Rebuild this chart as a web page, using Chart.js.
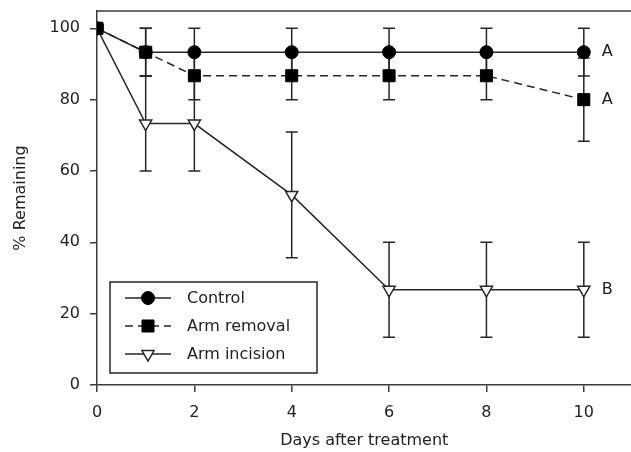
<!DOCTYPE html>
<html>
<head>
<meta charset="utf-8">
<script src="https://cdn.jsdelivr.net/npm/chart.js@4"></script>
<style>
  html, body { margin: 0; padding: 0; background: #fff; overflow: hidden; }
  #wrap { width: 641px; height: 452px; }
</style>
</head>
<body>
<div id="wrap"><canvas id="myChart1" width="641" height="452"></canvas></div>
<script>
const days = [0, 1, 2, 4, 6, 8, 10];
const control = [100, 93.3, 93.3, 93.3, 93.3, 93.3, 93.3];
const controlErr = [0, 6.7, 6.7, 6.7, 6.7, 6.7, 6.7];
const armRemoval = [100, 93.3, 86.7, 86.7, 86.7, 86.7, 80];
const armRemovalErr = [0, 6.7, 6.7, 6.7, 6.7, 6.7, 11.7];
const armIncision = [100, 73.3, 73.3, 53.3, 26.7, 26.7, 26.7];
const armIncisionErr = [0, 13.3, 13.3, 17.6, 13.3, 13.3, 13.3];
const xTicks = [0, 2, 4, 6, 8, 10];
const yTicks = [0, 20, 40, 60, 80, 100];
const groupLabels = ['A', 'A', 'B'];

const ink = '#262626';
const axisInk = '#3c3c3c';
const font = { family: '"DejaVu Sans", sans-serif', size: 16 };

function pts(vals) {
    return days.map((d, i) => ({ x: d, y: vals[i] }));
}

const data = {
    datasets: [
        {
            label: 'Control',
            data: pts(control),
            err: controlErr,
            borderColor: ink,
            backgroundColor: '#000',
            borderWidth: 1.5,
            pointStyle: 'circle',
            pointRadius: 6.5,
            pointBorderWidth: 1,
            pointBorderColor: '#000',
            pointBackgroundColor: '#000',
            order: 1
        },
        {
            label: 'Arm removal',
            data: pts(armRemoval),
            err: armRemovalErr,
            borderColor: ink,
            backgroundColor: '#000',
            borderWidth: 1.5,
            borderDash: [8, 5],
            pointStyle: 'rect',
            pointRadius: 8.5,
            pointBorderWidth: 1,
            pointBorderColor: '#000',
            pointBackgroundColor: '#000',
            order: 0
        },
        {
            label: 'Arm incision',
            data: pts(armIncision),
            err: armIncisionErr,
            borderColor: ink,
            backgroundColor: '#fff',
            borderWidth: 1.5,
            pointStyle: 'triangle',
            pointRotation: 180,
            pointRadius: 7,
            pointBorderWidth: 1.5,
            pointBorderColor: ink,
            pointBackgroundColor: '#fff',
            order: 2
        }
    ]
};

// error bars, drawn under the markers
const errorBars = {
    id: 'errorBars',
    beforeDatasetsDraw(chart) {
        const ctx = chart.ctx;
        const xs = chart.scales.x, ys = chart.scales.y;
        ctx.save();
        ctx.strokeStyle = ink;
        ctx.lineWidth = 1.5;
        chart.data.datasets.forEach(ds => {
            ds.data.forEach((p, i) => {
                const e = ds.err[i];
                if (!e) return;
                const x = xs.getPixelForValue(p.x);
                const y1 = ys.getPixelForValue(Math.min(p.y + e, 100.05));
                const y2 = ys.getPixelForValue(p.y - e);
                ctx.beginPath();
                ctx.moveTo(x, y1); ctx.lineTo(x, y2);
                ctx.moveTo(x - 6, y1); ctx.lineTo(x + 6, y1);
                ctx.moveTo(x - 6, y2); ctx.lineTo(x + 6, y2);
                ctx.stroke();
            });
        });
        ctx.restore();
    }
};

// top frame line, group letters and the boxed legend
const extras = {
    id: 'extras',
    afterDraw(chart) {
        const ctx = chart.ctx;
        const area = chart.chartArea;
        const xs = chart.scales.x, ys = chart.scales.y;
        ctx.save();
        ctx.strokeStyle = axisInk;
        ctx.lineWidth = 1.5;
        ctx.beginPath();
        ctx.moveTo(area.left, area.top);
        ctx.lineTo(area.right, area.top);
        ctx.stroke();

        ctx.fillStyle = '#222';
        ctx.font = font.size + 'px ' + font.family;
        ctx.textBaseline = 'middle';
        ctx.textAlign = 'left';
        chart.data.datasets.forEach((ds, i) => {
            const last = ds.data[ds.data.length - 1];
            ctx.fillText(groupLabels[i], xs.getPixelForValue(last.x) + 18, ys.getPixelForValue(last.y));
        });

        // legend
        const bx = 110, by = 282, bw = 207, bh = 91;
        ctx.strokeStyle = ink;
        ctx.lineWidth = 1.5;
        ctx.strokeRect(bx, by, bw, bh);
        chart.data.datasets.forEach((ds, i) => {
            const y = 298 + i * 28;
            ctx.save();
            ctx.strokeStyle = ds.borderColor;
            ctx.lineWidth = ds.borderWidth;
            ctx.setLineDash(ds.borderDash || []);
            ctx.beginPath();
            ctx.moveTo(125, y); ctx.lineTo(171, y);
            ctx.stroke();
            ctx.setLineDash([]);
            ctx.fillStyle = ds.pointBackgroundColor;
            ctx.strokeStyle = ds.pointBorderColor;
            ctx.lineWidth = ds.pointBorderWidth;
            Chart.helpers.drawPoint(ctx, {
                pointStyle: ds.pointStyle,
                radius: ds.pointRadius,
                rotation: ds.pointRotation || 0,
                borderWidth: ds.pointBorderWidth
            }, 148, y);
            ctx.restore();
            ctx.fillStyle = '#222';
            ctx.fillText(ds.label, 187, y + 1);
        });
        ctx.restore();
    }
};

function noPad(s) {
    s.paddingTop = 0; s.paddingBottom = 0; s.paddingLeft = 0; s.paddingRight = 0;
}

// the plot frame runs off the right edge of the picture, so the canvas is a little wider than the page
const options = {
    responsive: false,
    animation: false,
    layout: { padding: { top: 11, right: 0, left: 0, bottom: 0 } },
    plugins: { legend: { display: false }, tooltip: { enabled: false } },
    scales: {
        x: {
            type: 'linear',
            min: 0,
            max: 10.98,
            afterBuildTicks: s => { s.ticks = xTicks.map(v => ({ value: v })); },
            afterFit: s => { s.height = 67; noPad(s); },
            grid: { display: true, drawOnChartArea: false, drawTicks: true, tickLength: 7, color: axisInk, lineWidth: 1.5 },
            border: { display: true, color: axisInk, width: 1.5 },
            ticks: { color: '#222', font: font, padding: 11, maxRotation: 0 },
            title: { display: true, text: 'Days after treatment', color: '#222', font: font, padding: { top: 0, bottom: 2 } }
        },
        y: {
            min: 0,
            max: 104.85,
            afterBuildTicks: s => { s.ticks = yTicks.map(v => ({ value: v })); },
            afterFit: s => { s.width = 97; noPad(s); },
            grid: { display: true, drawOnChartArea: false, drawTicks: true, tickLength: 7, color: axisInk, lineWidth: 1.5 },
            border: { display: true, color: axisInk, width: 1.5 },
            ticks: { color: '#222', font: font, padding: 10 },
            title: { display: true, text: '% Remaining', color: '#222', font: font, padding: { top: 11, bottom: 0 } }
        }
    }
};

new Chart(document.getElementById('myChart1').getContext('2d'), {
    type: 'line',
    data: data,
    options: options,
    plugins: [errorBars, extras]
});
</script>
</body>
</html>
